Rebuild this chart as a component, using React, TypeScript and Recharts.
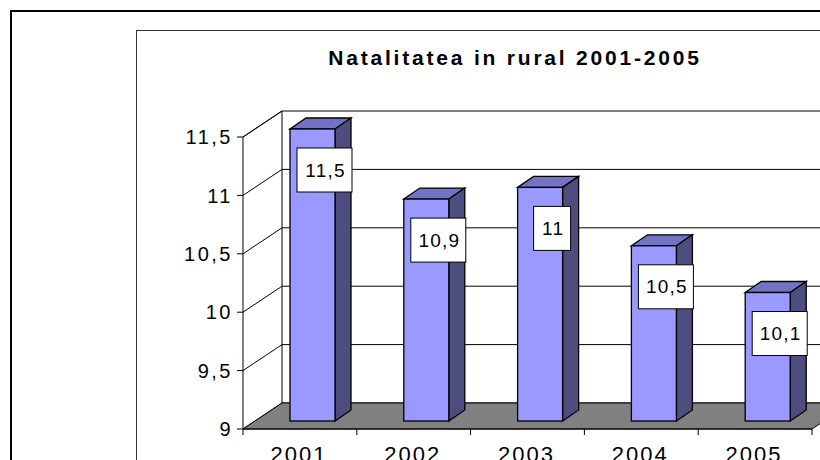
import { BarChart, Bar, XAxis, YAxis, CartesianGrid, ReferenceArea, LabelList } from 'recharts';

const years = ['2001', '2002', '2003', '2004', '2005'];
const natalitate = [11.5, 10.9, 11, 10.5, 10.1];
const yTicks = [9, 9.5, 10, 10.5, 11, 11.5];
const title = 'Natalitatea in rural 2001-2005';

const data = years.map((year, i) => ({ year, value: natalitate[i] }));

// 3D look: back wall offset, bar plane offset, bar depth
const WALL_DX = 39;
const WALL_DY = 26;
const BAR_DX = 13;
const BAR_DY = 8;
const DEPTH_X = 16;
const DEPTH_Y = 11;

const FONT = '"Liberation Sans", Arial, sans-serif';
const fmt = (v: number) => String(v).replace('.', ',');

// walls + floor, sized from the plot rect that recharts computes
const Box3D = (p: any) => {
  const { x, y, width, height } = p;
  const bottom = y + height;
  return (
    <g>
      <polygon
        points={`${x},${bottom} ${x + WALL_DX},${bottom - WALL_DY} ${x + width + WALL_DX},${bottom - WALL_DY} ${x + width},${bottom}`}
        fill="#808080"
        stroke="#000"
        strokeWidth={1}
      />
      <line x1={x + WALL_DX} y1={y - WALL_DY} x2={x + WALL_DX} y2={bottom - WALL_DY} stroke="#000" />
      <line x1={x} y1={y} x2={x + WALL_DX} y2={y - WALL_DY} stroke="#000" />
    </g>
  );
};

// gridline drawn on the back wall, joined to the front axis by a diagonal
const WallLine = (p: any) => {
  const { x1, y1, x2 } = p;
  return (
    <g key={p.key}>
      <line x1={x1} y1={y1} x2={x1 + WALL_DX} y2={y1 - WALL_DY} stroke="#000" strokeWidth={1} />
      <line x1={x1 + WALL_DX} y1={y1 - WALL_DY} x2={x2 + WALL_DX} y2={y1 - WALL_DY} stroke="#000" strokeWidth={1} />
    </g>
  );
};

const Bar3D = (p: any) => {
  const { x, y, width, height } = p;
  const fx = x + BAR_DX;
  const fy = y - BAR_DY;
  return (
    <g>
      <polygon
        points={`${fx},${fy} ${fx + DEPTH_X},${fy - DEPTH_Y} ${fx + width + DEPTH_X},${fy - DEPTH_Y} ${fx + width},${fy}`}
        fill="#7373C6"
        stroke="#000"
        strokeWidth={1.3}
      />
      <polygon
        points={`${fx + width},${fy} ${fx + width + DEPTH_X},${fy - DEPTH_Y} ${fx + width + DEPTH_X},${fy + height - DEPTH_Y} ${fx + width},${fy + height}`}
        fill="#4D4D80"
        stroke="#000"
        strokeWidth={1.3}
      />
      <rect x={fx} y={fy} width={width} height={height} fill="#9999FF" stroke="#000" strokeWidth={1.3} />
    </g>
  );
};

const ValueBox = (props: any) => {
  const vb = props.viewBox ?? props;
  const x = vb.x ?? props.x;
  const y = vb.y ?? props.y;
  const width = vb.width ?? props.width;
  const text = fmt(Number(props.value));
  const w = 19 + text.length * 9;
  const h = 44;
  const cx = x + width / 2 + BAR_DX + 12;
  const cy = y - BAR_DY + 41;
  return (
    <g>
      <rect x={cx - w / 2} y={cy - h / 2} width={w} height={h} fill="#fff" stroke="#000" strokeWidth={1} />
      <text
        x={cx + 1}
        y={cy}
        textAnchor="middle"
        dominantBaseline="central"
        fontFamily={FONT}
        fontSize={19}
        letterSpacing={1.2}
        fill="#000"
      >
        {text}
      </text>
    </g>
  );
};

const YearTick = (p: any) => {
  const { x, y, payload, index, visibleTicksCount, width } = p;
  const off = payload?.offset ?? width / visibleTicksCount / 2;
  const axisY = y - 16;
  return (
    <g>
      <line x1={x - off} y1={axisY} x2={x - off} y2={axisY + 6} stroke="#000" />
      {index === visibleTicksCount - 1 && (
        <line x1={x + off} y1={axisY} x2={x + off} y2={axisY + 6} stroke="#000" />
      )}
      <text x={x - 1} y={y + 1} dy="0.71em" textAnchor="middle" fontFamily={FONT} fontSize={22} letterSpacing={2} fill="#000">
        {payload.value}
      </text>
    </g>
  );
};

export default function App() {
  return (
    <div style={{ position: 'absolute', left: 0, top: 0, width: 820, height: 460, overflow: 'hidden', background: '#fff' }}>
      <div style={{ position: 'absolute', left: 10, top: 10, width: 830, height: 470, border: '2px solid #000' }} />
      <div style={{ position: 'absolute', left: 136, top: 30, width: 700, height: 450, border: '1px solid #333' }} />
      <div
        style={{
          position: 'absolute',
          left: 215,
          width: 600,
          top: 47,
          textAlign: 'center',
          fontFamily: FONT,
          fontWeight: 'bold',
          fontSize: 21,
          lineHeight: '21px',
          letterSpacing: 2.8,
          color: '#000',
        }}
      >
        {title}
      </div>
      <div style={{ position: 'absolute', left: 0, top: 0 }}>
        <BarChart width={820} height={460} data={data} margin={{ top: 137, right: 8, bottom: 0, left: 163 }} barSize={45}>
          <CartesianGrid vertical={false} horizontal={WallLine} />
          <ReferenceArea y1={9} y2={11.5} shape={Box3D} />
          <XAxis
            dataKey="year"
            height={31}
            axisLine={{ stroke: '#000' }}
            tickLine={false}
            tickSize={6}
            tickMargin={10}
            tick={<YearTick />}
          />
          <YAxis
            type="number"
            domain={[9, 11.5]}
            ticks={yTicks}
            width={80}
            tickFormatter={fmt}
            axisLine={{ stroke: '#000' }}
            tickLine={{ stroke: '#000' }}
            tickSize={6}
            tickMargin={4}
            tick={{ fill: '#000', fontSize: 20, fontFamily: FONT, letterSpacing: 2.5 }}
          />
          <Bar dataKey="value" shape={Bar3D} isAnimationActive={false}>
            <LabelList dataKey="value" content={ValueBox} />
          </Bar>
        </BarChart>
      </div>
    </div>
  );
}
